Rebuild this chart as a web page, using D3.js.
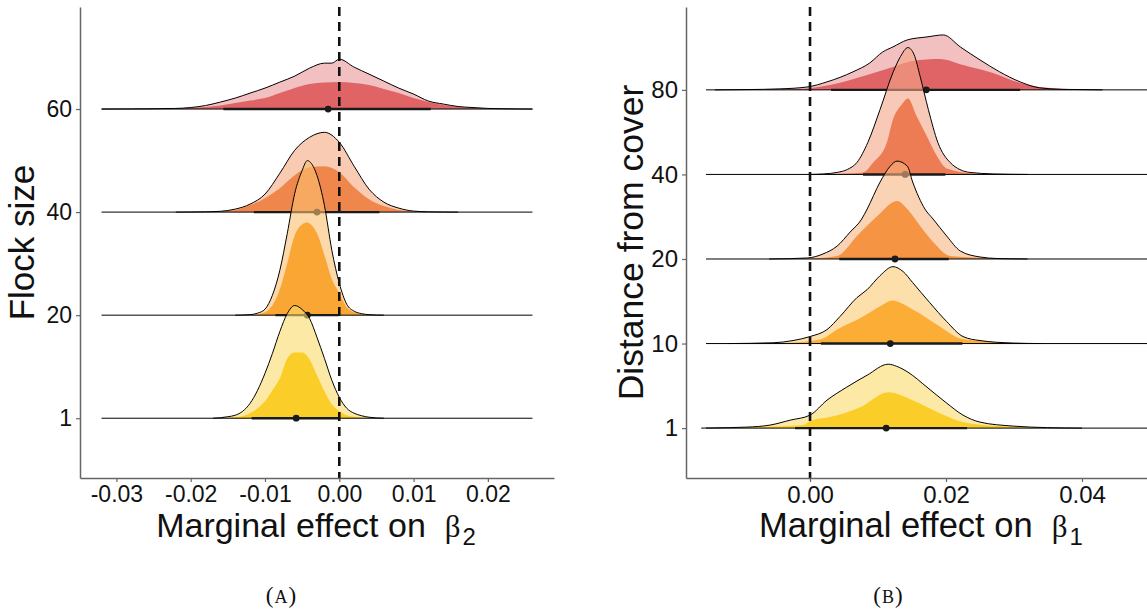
<!DOCTYPE html>
<html>
<head>
<meta charset="utf-8">
<script src="https://cdn.jsdelivr.net/npm/d3@7"></script>
<style>
  body { margin: 0; background: #fff; }
  text { font-family: "Liberation Sans", Arial, sans-serif; fill: #111; }
</style>
</head>
<body>
<svg id="chart" width="1147" height="613"></svg>
<script>
// ---- panel A: flock size ----
const flockSizes = ["1", "20", "40", "60"];
const flockTicks = [-0.03, -0.02, -0.01, 0, 0.01, 0.02];
const flockRange = [-0.032, 0.026];

// outer (light) density per flock size, [x, density]
const flockOuter = [
  [[-0.017,0],[-0.016,0.5],[-0.015,1.5],[-0.014,3],[-0.013,7],[-0.012,15],[-0.011,28],[-0.010,45],[-0.009,65],[-0.008,87],[-0.007,105],[-0.006,113],[-0.005,109],[-0.004,100],[-0.003,81],[-0.002,60],[-0.001,38],[0.000,21],[0.001,10],[0.002,5],[0.003,2.5],[0.004,1],[0.006,0]],
  [[-0.014,0],[-0.012,0.5],[-0.011,2],[-0.010,6],[-0.009,20],[-0.008,45],[-0.007,82],[-0.006,122],[-0.005,145],[-0.0043,155],[-0.004,154],[-0.003,140],[-0.002,110],[-0.001,65],[0.000,32],[0.001,11],[0.002,4],[0.003,1.5],[0.004,0.5],[0.006,0]],
  [[-0.022,0],[-0.020,0.1],[-0.018,0.3],[-0.016,0.8],[-0.014,3],[-0.012,8],[-0.010,18],[-0.008,39],[-0.006,62],[-0.004,75],[-0.002,80],[0.000,70],[0.002,46],[0.004,23],[0.006,10],[0.008,4],[0.010,1],[0.012,0.3],[0.014,0.1],[0.016,0]],
  [[-0.032,0],[-0.028,0.1],[-0.026,0.2],[-0.024,0.4],[-0.022,0.6],[-0.020,1.5],[-0.018,3.5],[-0.016,7],[-0.014,11],[-0.012,16],[-0.010,21],[-0.008,27],[-0.006,33],[-0.004,41],[-0.002,46],[-0.001,46],[0.000,50],[0.002,42],[0.004,35],[0.006,28],[0.008,21],[0.010,15],[0.012,8],[0.014,5],[0.016,2.5],[0.018,1.5],[0.020,0.6],[0.022,0.3],[0.024,0.1],[0.026,0]]
];

// inner (dark) density per flock size
const flockInner = [
  [[-0.016,0],[-0.014,1],[-0.012,5],[-0.011,10],[-0.010,17],[-0.009,28],[-0.008,40],[-0.007,60],[-0.006,66],[-0.005,66],[-0.004,59],[-0.003,43],[-0.002,27],[-0.001,14],[0.000,7],[0.001,3],[0.002,1.5],[0.003,0.8],[0.005,0]],
  [[-0.012,0],[-0.010,3],[-0.009,10],[-0.008,26],[-0.007,52],[-0.006,80],[-0.005,91],[-0.0043,93],[-0.004,92],[-0.003,82],[-0.002,60],[-0.001,36],[0.000,22],[0.001,8],[0.002,3],[0.003,1],[0.005,0]],
  [[-0.018,0],[-0.016,0.5],[-0.014,2],[-0.012,7],[-0.010,14],[-0.008,24],[-0.006,37],[-0.004,45],[-0.002,46],[0.000,40],[0.002,25],[0.004,13],[0.006,6],[0.008,2],[0.010,0.6],[0.012,0.2],[0.014,0]],
  [[-0.028,0],[-0.026,0.2],[-0.024,0.4],[-0.022,0.6],[-0.020,1],[-0.018,2],[-0.016,3.5],[-0.014,6],[-0.012,8.5],[-0.010,11],[-0.008,16],[-0.006,21],[-0.004,25],[-0.002,26.5],[0.000,27],[0.002,26],[0.004,24],[0.006,20],[0.008,16],[0.010,11],[0.012,7],[0.014,4],[0.016,2],[0.018,1],[0.020,0.5],[0.022,0.2],[0.024,0]]
];

const flockInterval = [[-0.0118, -0.0001], [-0.0086, -0.0001], [-0.0115, 0.0054], [-0.0156, 0.0123]];
const flockPoint = [-0.0058, -0.0043, -0.0030, -0.0015];

// ---- panel B: distance from cover ----
const coverDist = ["1", "10", "20", "40", "80"];
const coverTicks = [0, 0.02, 0.04];
const coverRange = [-0.0153, 0.052];

const coverOuter = [
  [[-0.016,0],[-0.0143,0.2],[-0.0093,1],[-0.0059,3],[-0.0029,8],[0.0,13],[0.0025,28],[0.0054,41],[0.0084,53],[0.0115,64],[0.0127,62],[0.0144,56],[0.0172,41],[0.0201,25],[0.0225,13],[0.025,6],[0.0299,2],[0.0349,0.5],[0.040,0]],
  [[-0.012,0],[-0.0054,0.8],[-0.0025,3],[0.0,7],[0.0025,14],[0.0044,27],[0.0069,46],[0.0084,54],[0.0103,68],[0.0122,77],[0.0137,72],[0.0151,61],[0.0176,41],[0.0201,22],[0.0225,7],[0.025,3],[0.0299,0.5],[0.034,0]],
  [[-0.006,0],[-0.0004,1],[0.0019,5],[0.004,13],[0.0059,27],[0.0076,40],[0.0084,50],[0.0103,77],[0.0118,93],[0.0128,98],[0.0143,93],[0.0151,77],[0.0169,50],[0.0181,40],[0.0201,23],[0.0221,8],[0.025,2],[0.0275,0.5],[0.032,0]],
  [[0.0,0],[0.002,0.5],[0.004,2],[0.0055,5],[0.0069,12],[0.0085,32],[0.0103,65],[0.0122,102],[0.0133,118],[0.0144,127],[0.0153,120],[0.0162,98],[0.0174,65],[0.0188,32],[0.0206,12],[0.0235,2],[0.027,0.5],[0.032,0]],
  [[-0.014,0],[-0.0093,0.3],[-0.0044,1],[-0.0003,3],[0.0025,8],[0.0063,18],[0.0088,27],[0.0107,38],[0.0122,43],[0.0143,50],[0.0172,53],[0.0196,55],[0.0221,43],[0.025,30],[0.0279,18],[0.0309,8],[0.0338,2],[0.0372,0.5],[0.0397,0.3],[0.043,0]]
];

const coverInner = [
  [[-0.016,0],[-0.010,0.5],[-0.005,1.5],[-0.001,3],[0.0,7],[0.0029,11],[0.0074,21],[0.0115,36],[0.0151,28],[0.0191,15],[0.0225,6],[0.0275,2],[0.033,0.7],[0.038,0]],
  [[-0.008,0],[-0.003,0.8],[0.0015,4],[0.004,14],[0.0078,27],[0.0105,38],[0.0121,43],[0.0151,34],[0.0191,17],[0.0221,5],[0.026,2],[0.030,0.5],[0.034,0]],
  [[-0.004,0],[0.0,0.5],[0.004,3],[0.0069,23],[0.0099,43],[0.0128,58],[0.0143,50],[0.0162,33],[0.0181,17],[0.0206,3],[0.024,1.5],[0.028,0.5],[0.032,0]],
  [[0.002,0],[0.0055,1],[0.0078,2],[0.0093,12],[0.0113,32],[0.0122,55],[0.0135,70],[0.0144,76],[0.0157,58],[0.0172,38],[0.0187,18],[0.0201,6],[0.024,1],[0.028,0]],
  [[-0.012,0],[-0.006,0.3],[-0.002,0.8],[0.0029,5],[0.0084,15],[0.0122,23],[0.0151,29],[0.0191,31],[0.0225,25],[0.0269,17],[0.0309,7],[0.0349,2],[0.039,0.5],[0.044,0]]
];

const coverInterval = [[-0.0022, 0.0231], [0.0016, 0.0224], [0.0043, 0.0204], [0.0078, 0.0199], [0.0031, 0.0309]];
const coverPoint = [0.0112, 0.0118, 0.0125, 0.0140, 0.0171];

// palettes (colour as seen on white)
const flockLight = ["#fde9a6", "#fdd8a9", "#f8cbb2", "#f2c0c1"];
const flockDark  = ["#fbcd28", "#f9a634", "#ef874d", "#e06466"];
const coverLight = ["#fde9a6", "#fddfab", "#fad2b4", "#f7c9b6", "#f2c0c1"];
const coverDark  = ["#fbcd28", "#fbad35", "#f59442", "#ed7b53", "#e06466"];

const svg = d3.select('#chart');
const fillAlpha = 0.6;
const sans = '"Liberation Sans", Arial, sans-serif';
const serif = '"Liberation Serif", "DejaVu Serif", serif';

// colour that looks like `hex` once drawn at opacity a on white
function onWhite(hex, a) {
    const c = d3.rgb(hex);
    return d3.rgb((c.r - 255 * (1 - a)) / a, (c.g - 255 * (1 - a)) / a, (c.b - 255 * (1 - a)) / a).formatHex();
}

function drawPanel(p) {
    const g = svg.append('g');

    const x = d3.scaleLinear().domain(p.xDomain).range([p.left, p.right]);
    const y = d3.scaleLinear().domain([p.yPad[0], p.cats.length - 1 + p.yPad[1]]).range([p.bottom, p.top]);
    const step = y(0) - y(1);
    const maxD = d3.max(p.outer, r => d3.max(r, d => d[1]));
    const h = d3.scaleLinear().domain([0, maxD]).range([0, 1.5 * step]);

    // rows: top one first so lower ridges sit in front
    d3.range(p.cats.length).reverse().forEach(i => {
        const base = y(i);
        const area = d3.area()
            .x(d => x(d[0]))
            .y0(base)
            .y1(d => base - h(d[1]))
            .curve(d3.curveMonotoneX);
        const line = d3.line()
            .x(d => x(d[0]))
            .y(d => base - h(d[1]))
            .curve(d3.curveMonotoneX);

        const row = g.append('g');
        row.append('path')
            .attr('d', area(p.outer[i]))
            .attr('fill', onWhite(p.light[i], fillAlpha))
            .attr('fill-opacity', fillAlpha);
        row.append('path')
            .attr('d', area(p.inner[i]))
            .attr('fill', p.dark[i]);
        row.append('path')
            .attr('d', line(p.outer[i]))
            .attr('fill', 'none')
            .attr('stroke', '#000')
            .attr('stroke-width', 1);
        row.append('line')
            .attr('x1', x(p.baseRange[0]))
            .attr('x2', x(p.baseRange[1]))
            .attr('y1', base)
            .attr('y2', base)
            .attr('stroke', '#000')
            .attr('stroke-width', 1);
        row.append('line')
            .attr('x1', x(p.intervals[i][0]))
            .attr('x2', x(p.intervals[i][1]))
            .attr('y1', base)
            .attr('y2', base)
            .attr('stroke', '#1a1a1a')
            .attr('stroke-width', 2.4);
        row.append('circle')
            .attr('cx', x(p.points[i]))
            .attr('cy', base)
            .attr('r', 3.4)
            .attr('fill', '#1a1a1a');
    });

    // zero reference line
    g.append('line')
        .attr('x1', x(0)).attr('x2', x(0))
        .attr('y1', p.top).attr('y2', p.bottom)
        .attr('stroke', '#111')
        .attr('stroke-width', 2.6)
        .attr('stroke-dasharray', '9,6');

    // axes
    const yAxis = g.append('g')
        .attr('transform', `translate(${p.left},0)`)
        .call(d3.axisLeft(y)
            .tickValues(d3.range(p.cats.length))
            .tickFormat(i => p.cats[i])
            .tickSize(4)
            .tickPadding(4)
            .tickSizeOuter(0));
    const xAxis = g.append('g')
        .attr('transform', `translate(0,${p.bottom})`)
        .call(d3.axisBottom(x)
            .tickValues(p.ticks)
            .tickFormat(d => d.toFixed(2))
            .tickSize(4)
            .tickPadding(4)
            .tickSizeOuter(0));
    [yAxis, xAxis].forEach(a => {
        a.attr('font-size', p.tickFont).attr('font-family', sans);
        a.select('.domain').attr('stroke', '#666').attr('stroke-width', 1.5);
        a.selectAll('.tick line').attr('stroke', '#666').attr('stroke-width', 1.2);
        a.selectAll('.tick text')
            .attr('fill', '#111')
            .attr('font-size', p.tickFont)
            .style('font-family', sans)
            .style('font-size', p.tickFont + 'px');
    });

    // y title
    g.append('text')
        .attr('transform', `translate(${p.yTitleX},${(p.top + p.bottom) / 2}) rotate(-90)`)
        .attr('text-anchor', 'middle')
        .style('font-size', p.yTitleFont + 'px')
        .text(p.yTitle);

    // x title with greek symbol
    const xt = g.append('text')
        .attr('x', p.xTitleX)
        .attr('y', 537)
        .attr('text-anchor', 'middle')
        .style('font-size', p.xTitleFont + 'px');
    xt.append('tspan').text('Marginal effect on\u00a0\u00a0');
    xt.append('tspan')
        .style('font-family', serif)
        .style('font-size', '31px')
        .text('\u03b2');
    xt.append('tspan')
        .attr('dx', 2)
        .attr('dy', 8)
        .style('font-size', '24px')
        .text(p.sub);

    // panel label
    const lab = g.append('text')
        .attr('x', p.labelX)
        .attr('y', 603)
        .attr('text-anchor', 'middle')
        .style('font-family', serif)
        .style('font-size', '23px');
    lab.append('tspan').text('(');
    lab.append('tspan').attr('dx', 1).style('font-size', '18px').style('letter-spacing', '1px').text(p.label);
    lab.append('tspan').text(')');
}

drawPanel({
    cats: flockSizes, outer: flockOuter, inner: flockInner,
    intervals: flockInterval, points: flockPoint,
    light: flockLight, dark: flockDark,
    ticks: flockTicks, baseRange: flockRange,
    xDomain: [-0.0349, 0.0289],
    left: 80, right: 554, top: 7, bottom: 478,
    yPad: [-0.58, 0.99],
    tickFont: 23, xTitleFont: 34, yTitleFont: 35,
    yTitle: 'Flock size', yTitleX: 34,
    xTitleX: 316, sub: '2', label: 'A', labelX: 281
});

drawPanel({
    cats: coverDist, outer: coverOuter, inner: coverInner,
    intervals: coverInterval, points: coverPoint,
    light: coverLight, dark: coverDark,
    ticks: coverTicks, baseRange: coverRange,
    xDomain: [-0.01824, 0.05147],
    left: 686, right: 1160, top: 7, bottom: 478,
    yPad: [-0.59, 0.98],
    tickFont: 24, xTitleFont: 34.5, yTitleFont: 35.5,
    yTitle: 'Distance from cover', yTitleX: 643,
    xTitleX: 921, sub: '1', label: 'B', labelX: 888
});
</script>
</body>
</html>
